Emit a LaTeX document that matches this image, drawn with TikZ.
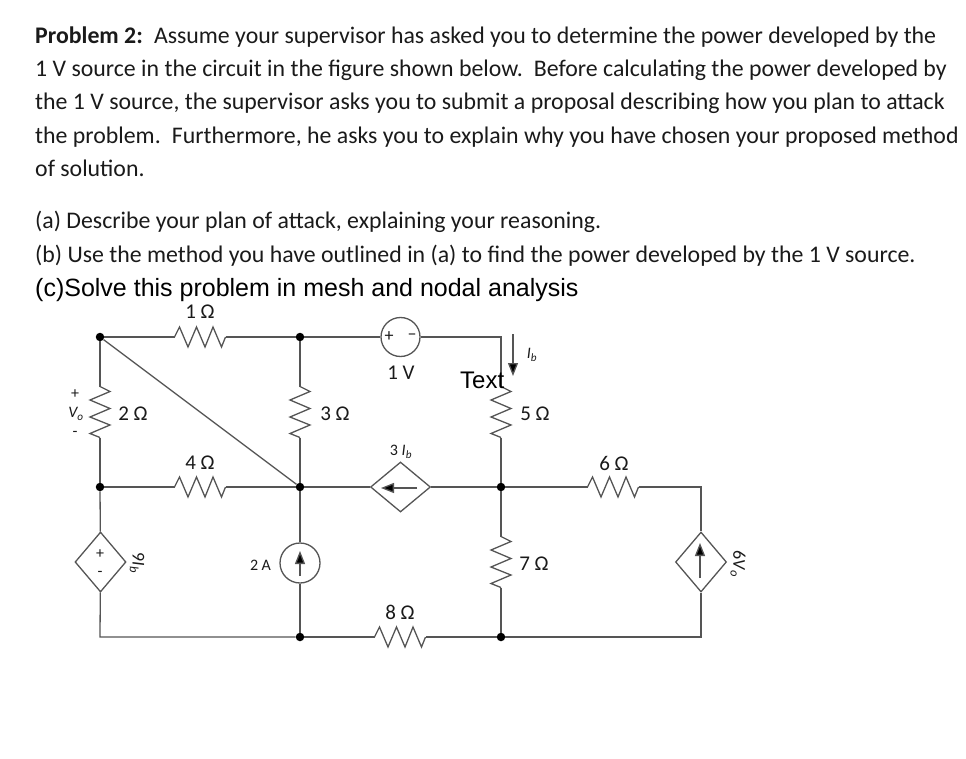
\documentclass[tikz,border=0pt]{standalone}
\usepackage{fontspec}
\setmainfont{Carlito}
\newfontfamily\helv{Liberation Sans}
\usetikzlibrary{shapes.geometric,arrows.meta}
\definecolor{wire}{HTML}{555555}
\definecolor{ink}{HTML}{1A1A1A}
\tikzset{
  wirepath/.style={draw=wire,line width=1.3pt},
  para/.style={anchor=base west,inner sep=0pt,text=ink,font=\fontsize{23.82}{28}\selectfont},
  para2/.style={anchor=base west,inner sep=0pt,text=black,font=\helv\fontsize{25}{30}\selectfont},
  lab/.style={inner sep=0pt,text=ink,font=\fontsize{21}{24}\selectfont},
  small/.style={inner sep=0pt,text=ink,font=\fontsize{16}{18}\selectfont},
  large/.style={inner sep=0pt,text=ink,font=\fontsize{18}{22}\selectfont},
  dot/.style={circle,fill=black,inner sep=0pt,minimum size=8.5pt},
  srccirc/.style={circle,draw=wire,line width=1.3pt,fill=white,inner sep=0pt,minimum size=39pt},
  dep/.style={diamond,draw=wire,line width=1.3pt,fill=white,inner sep=0pt},
  deph/.style={dep,minimum width=60pt,minimum height=50pt},
  depv/.style={dep,minimum width=51pt,minimum height=60pt},
  tipline/.style={draw=wire,line width=1.3pt,-{Triangle[length=13pt,width=10pt,fill=black]}},
  res/.pic={
    \coordinate (-a) at (-25.5,0);
    \coordinate (-b) at (25.5,0);
    \draw[wirepath,line join=miter] (-25.5,0)--(-20.5,-10)--(-12,10)--(-3.5,-10)--(5,10)--(13,-10)--(21.5,10)--(25.5,0);
  }
}
\begin{document}
\begin{tikzpicture}[x=1pt,y=-1pt]
\useasboundingbox (0,0) rectangle (966,759);
% text
\node[para] (l1) at (35,43.7) {\textbf{Problem 2:}\, Assume your supervisor has asked you to determine the power developed by the};
\node[para] (l2) at (35,76.7) {1 V source in the circuit in the figure shown below.\, Before calculating the power developed by};
\node[para] (l3) at (35,109.7) {the 1 V source, the supervisor asks you to submit a proposal describing how you plan to attack};
\node[para] (l4) at (35,143.7) {the problem.\, Furthermore, he asks you to explain why you have chosen your proposed method};
\node[para] (l5) at (35,176.7) {of solution.};
\node[para] (l6) at (35,228.7) {(a) Describe your plan of attack, explaining your reasoning.};
\node[para] (l7) at (35,262.7) {(b) Use the method you have outlined in (a) to find the power developed by the 1 V source.};
\node[para2] (l8) at (35,296) {(c)Solve this problem in mesh and nodal analysis};
% junctions
\coordinate (tr) at (501,337);
\coordinate (mr) at (701,487);
\coordinate (br) at (701,637);
\coordinate (bl) at (100,637);
\node[dot] (n1) at (100,337) {};
\node[dot] (n2) at (300,337) {};
\node[dot] (n3) at (100,487) {};
\node[dot] (n4) at (300,487) {};
\node[dot] (n5) at (501,487) {};
\node[dot] (n6) at (300,637) {};
\node[dot] (n7) at (501,637) {};
% resistors
\pic (r1) at (200,337) {res};
\pic (r4) at (200,487) {res};
\pic (r6) at (613,487) {res};
\pic (r8) at (400,637) {res};
\pic[rotate=-90] (r2) at (100,412) {res};
\pic[rotate=-90] (r3) at (300,412) {res};
\pic[rotate=-90] (r5) at (501,412) {res};
\pic[rotate=-90] (r7) at (501,562) {res};
% sources
\node[srccirc] (v1) at (400.5,337) {};
\node[srccirc,minimum size=40pt] (i2) at (300,563) {};
\node[deph] (d3) at (400.5,487) {};
\node[depv] (d9) at (100.5,562) {};
\node[depv] (d6) at (701,562) {};
% wires
\draw[wirepath] (n1) -- (r1-a);
\draw[wirepath] (r1-b) -- (n2);
\draw[wirepath] (n2) -- (v1);
\draw[wirepath] (v1) -- (tr) -- (r5-a);
\draw[wirepath] (n1) -- (r2-a);
\draw[wirepath] (r2-b) -- (n3);
\draw[wirepath] (n2) -- (r3-a);
\draw[wirepath] (r3-b) -- (n4);
\draw[wirepath] (r5-b) -- (n5);
\draw[wirepath] (n1) -- (n4);
\draw[wirepath] (n3) -- (r4-a);
\draw[wirepath] (r4-b) -- (n4);
\draw[wirepath] (n4) -- (d3);
\draw[wirepath] (d3) -- (n5);
\draw[wirepath] (n5) -- (r6-a);
\draw[wirepath] (r6-b) -- (mr) -- (d6);
\draw[wirepath] (d6) -- (br) -- (n7);
\draw[wirepath] (n5) -- (r7-a);
\draw[wirepath] (r7-b) -- (n7);
\draw[wirepath] (n7) -- (r8-b);
\draw[wirepath] (r8-a) -- (n6);
\draw[wirepath] (n6) -- (bl) -- (d9);
\draw[wirepath] (d9) -- (n3);
\draw[wirepath] (n4) -- (i2);
\draw[wirepath] (i2) -- (n6);
% source arrows
\coordinate (a3s) at (417,488);
\coordinate (a3e) at (381,488);
\draw[tipline] (a3s) -- (a3e);
\coordinate (a2s) at (300,576);
\coordinate (a2e) at (300,551);
\draw[tipline] (a2s) -- (a2e);
\coordinate (a6s) at (700,578);
\coordinate (a6e) at (700,543);
\draw[tipline] (a6s) -- (a6e);
\coordinate (ibs) at (513,334);
\coordinate (ibe) at (513,376);
\draw[tipline] (ibs) -- (ibe);
% labels
\node[lab] (t1) at (200,312) {1 Ω};
\node[lab] (t2) at (133,414) {2 Ω};
\node[lab] (t3) at (335,414) {3 Ω};
\node[lab] (t4) at (200,463) {4 Ω};
\node[lab] (t5) at (535,414) {5 Ω};
\node[lab] (t6) at (614,463) {6 Ω};
\node[lab] (t7) at (534,564) {7 Ω};
\node[lab] (t8) at (400,612) {8 Ω};
\node[lab] (t1v) at (401,373) {1 V};
\node[small] (t2a) at (260.5,565.5) {2 A};
\node[small] (t3i) at (401,452) {3 \textit{I\textsubscript{b}}};
\node[small] (tib) at (532,355) {\textit{I\textsubscript{b}}};
\node[small] (tvo) at (76,414) {\textit{V\textsubscript{o}}};
\node[small] (tp) at (75,394) {+};
\node[small] (tm) at (75,434) {-};
\node[large,rotate=-90] (t9) at (137,563) {9\textit{I\textsubscript{b}}};
\node[large,rotate=-90] (t6v) at (738,564) {6\textit{V\textsubscript{o}}};
\node[large] (v1p) at (389,337) {+};
\node[large] (v1m) at (412,337) {–};
\node[small] (d9p) at (100,554) {+};
\node[small] (d9m) at (100,574) {-};
\node[anchor=base west,inner sep=0pt,text=black,font=\helv\fontsize{24}{28}\selectfont] (txt) at (460,388) {Text};
\end{tikzpicture}
\end{document}
